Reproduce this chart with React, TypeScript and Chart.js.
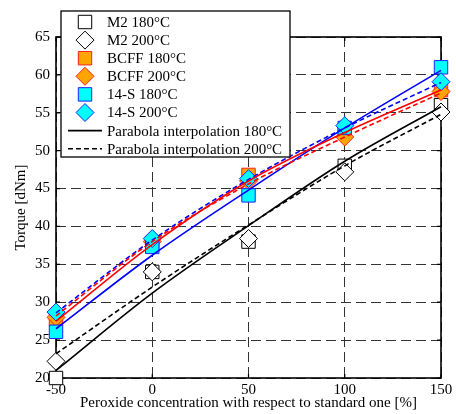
import React, { useEffect, useRef } from "react";
import { Chart, registerables } from "chart.js";

Chart.register(...registerables);

const xValues = [-50, 0, 50, 100, 150];
const m2_180 = [20, 34, 38, 48, 56];
const m2_200 = [22.2, 34, 38.4, 47.2, 55.1];
const bcff_180 = [27.8, 37.8, 46.8, 52.5, 58];
const bcff_200 = [28, 38, 46, 51.8, 57.8];
const s14_180 = [26.1, 37.3, 44.1, 53, 61];
const s14_200 = [28.7, 38.4, 46.3, 53.3, 59.1];

const fitM2_180 = [21, 31.2, 40.1, 48.6, 55.8];
const fitM2_200 = [23.2, 32, 40.2, 48, 54.8];
const fitBcff_180 = [27.5, 37.6, 46, 52.4, 58];
const fitBcff_200 = [28.2, 38, 45.6, 51.8, 57.6];
const fitS14_180 = [26.5, 36.2, 44.8, 53, 60.6];
const fitS14_200 = [28.6, 38.2, 46.2, 53, 59];

const legendLabels = [
  "M2 180°C",
  "M2 200°C",
  "BCFF 180°C",
  "BCFF 200°C",
  "14-S 180°C",
  "14-S 200°C",
  "Parabola interpolation 180°C",
  "Parabola interpolation 200°C",
];

const FONT = "'Liberation Serif', 'Times New Roman', serif";

const pts = (ys: number[]) => xValues.map((x, i) => ({ x, y: ys[i] }));

const markerDs = (label: string, ys: number[], style: string, fill: string, border: string, order: number) => ({
  label,
  data: pts(ys),
  showLine: false,
  pointStyle: style,
  pointRadius: style === "rect" ? 9.5 : 9,
  pointBackgroundColor: fill,
  pointBorderColor: border,
  pointBorderWidth: 1,
  clip: false,
  order,
});

const lineDs = (ys: number[], color: string, dashed: boolean) => ({
  label: "",
  data: pts(ys),
  showLine: true,
  borderColor: color,
  borderWidth: 1.6,
  borderDash: dashed ? [5, 3] : [],
  pointRadius: 0,
  cubicInterpolationMode: "monotone",
  fill: false,
  clip: false,
  order: 1,
});

const framePlugin = {
  id: "frame",
  beforeDatasetsDraw(chart: any) {
    const { ctx, chartArea: a, scales } = chart;
    ctx.save();
    ctx.strokeStyle = "#000";
    ctx.lineWidth = 1.6;
    ctx.setLineDash([]);
    ctx.strokeRect(a.left, a.top, a.right - a.left, a.bottom - a.top);
    ctx.lineWidth = 1.2;
    ctx.beginPath();
    for (const t of scales.y.ticks) {
      const y = scales.y.getPixelForValue(t.value);
      ctx.moveTo(a.left, y);
      ctx.lineTo(a.left + 4, y);
      ctx.moveTo(a.right, y);
      ctx.lineTo(a.right - 4, y);
    }
    for (const t of scales.x.ticks) {
      const x = scales.x.getPixelForValue(t.value);
      ctx.moveTo(x, a.bottom);
      ctx.lineTo(x, a.bottom - 4);
      ctx.moveTo(x, a.top);
      ctx.lineTo(x, a.top + 4);
    }
    ctx.stroke();
    ctx.restore();
  },
};

function drawMarker(ctx: CanvasRenderingContext2D, st: string, x: number, y: number, r: number, f: string, b: string) {
  ctx.beginPath();
  if (st === "rect") {
    const s = r * Math.SQRT1_2;
    ctx.rect(x - s, y - s, 2 * s, 2 * s);
  } else {
    ctx.moveTo(x, y - r);
    ctx.lineTo(x + r, y);
    ctx.lineTo(x, y + r);
    ctx.lineTo(x - r, y);
    ctx.closePath();
  }
  ctx.fillStyle = f;
  ctx.fill();
  ctx.strokeStyle = b;
  ctx.lineWidth = 1;
  ctx.stroke();
}

const legendPlugin = {
  id: "customLegend",
  afterDraw(chart: any) {
    const ctx = chart.ctx;
    const bx = 61, by = 11, bw = 229, bh = 146;
    ctx.save();
    ctx.fillStyle = "#fff";
    ctx.fillRect(bx, by, bw, bh);
    ctx.strokeStyle = "#000";
    ctx.lineWidth = 1.3;
    ctx.setLineDash([]);
    ctx.strokeRect(bx, by, bw, bh);
    const styles = [
      ["rect", "#fff", "#000"],
      ["rectRot", "#fff", "#000"],
      ["rect", "#FFA500", "#FF2020"],
      ["rectRot", "#FFA500", "#FF2020"],
      ["rect", "#00FFFF", "#2020FF"],
      ["rectRot", "#00FFFF", "#2020FF"],
    ];
    ctx.font = `15px ${FONT}`;
    ctx.textBaseline = "middle";
    ctx.textAlign = "left";
    for (let i = 0; i < legendLabels.length; i++) {
      const y = 22 + i * 18.1;
      if (i < 6) {
        const [st, f, b] = styles[i];
        drawMarker(ctx, st, 85, y, st === "rect" ? 9.5 : 9, f, b);
      } else {
        ctx.strokeStyle = "#000";
        ctx.lineWidth = 1.6;
        ctx.setLineDash(i === 6 ? [] : [5, 3]);
        ctx.beginPath();
        ctx.moveTo(68, y);
        ctx.lineTo(102, y);
        ctx.stroke();
        ctx.setLineDash([]);
      }
      ctx.fillStyle = "#000";
      ctx.fillText(legendLabels[i], 107, y + 1);
    }
    ctx.restore();
  },
};

export default function App() {
  const ref = useRef<HTMLCanvasElement>(null);
  useEffect(() => {
    if (!ref.current) return;
    const chart = new Chart(ref.current, {
      type: "line",
      data: {
        datasets: [
          markerDs("M2 180°C", m2_180, "rect", "#fff", "#000", 16),
          markerDs("M2 200°C", m2_200, "rectRot", "#fff", "#000", 15),
          markerDs("BCFF 180°C", bcff_180, "rect", "#FFA500", "#FF2020", 14),
          markerDs("BCFF 200°C", bcff_200, "rectRot", "#FFA500", "#FF2020", 13),
          markerDs("14-S 180°C", s14_180, "rect", "#00FFFF", "#2020FF", 12),
          markerDs("14-S 200°C", s14_200, "rectRot", "#00FFFF", "#2020FF", 11),
          lineDs(fitM2_180, "#000", false),
          lineDs(fitM2_200, "#000", true),
          lineDs(fitBcff_180, "#FF0000", false),
          lineDs(fitBcff_200, "#FF0000", true),
          lineDs(fitS14_180, "#0000FF", false),
          lineDs(fitS14_200, "#0000FF", true),
        ] as any,
      },
      options: {
        animation: false,
        responsive: true,
        maintainAspectRatio: false,
        layout: { padding: { left: 0, top: 37, right: 15, bottom: 0 } },
        plugins: { legend: { display: false }, tooltip: { enabled: false } },
        scales: {
          x: {
            type: "linear",
            min: -50,
            max: 150,
            ticks: { stepSize: 50, color: "#000", font: { family: FONT, size: 15 }, padding: 3 },
            grid: { color: "#333", lineWidth: 1, drawTicks: false },
            border: { display: false, dash: [10, 5] },
            title: {
              display: true,
              text: "Peroxide concentration with respect to standard one [%]",
              color: "#000",
              font: { family: FONT, size: 15 },
              padding: { top: 0, bottom: 2 },
            },
            afterFit: (s: any) => {
              s.height = 36;
            },
          },
          y: {
            type: "linear",
            min: 20,
            max: 65,
            ticks: { stepSize: 5, color: "#000", font: { family: FONT, size: 15 }, padding: 6 },
            grid: { color: "#333", lineWidth: 1, drawTicks: false },
            border: { display: false, dash: [10, 5] },
            title: {
              display: true,
              text: "Torque [dNm]",
              color: "#000",
              font: { family: FONT, size: 15 },
              padding: { top: 12, bottom: 0 },
            },
            afterFit: (s: any) => {
              s.width = 56;
            },
          },
        },
      } as any,
      plugins: [framePlugin, legendPlugin],
    });
    return () => chart.destroy();
  }, []);
  return (
    <div style={{ position: "absolute", left: 0, top: 0, width: 456, height: 414, background: "#fff" }}>
      <canvas ref={ref} />
    </div>
  );
}
